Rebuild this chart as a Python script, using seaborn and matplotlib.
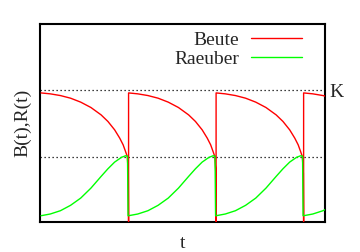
import numpy as np
import pandas as pd
import matplotlib
matplotlib.use("Agg")
import matplotlib.pyplot as plt
import matplotlib.transforms as mtransforms
import seaborn as sns

# ---- data (one cycle, repeated at each cycle start) ----
beute_t = [0.0, 0.105, 0.221, 0.337, 0.453, 0.570, 0.686, 0.764, 0.841,
           0.899, 0.938, 0.965, 0.985, 0.997]
beute_cycle = [0.978, 0.971, 0.958, 0.938, 0.908, 0.867, 0.811, 0.761, 0.697,
               0.634, 0.583, 0.533, 0.495, 0.368]
raeuber_t = [0.0, 0.105, 0.221, 0.337, 0.453, 0.570, 0.686, 0.764, 0.841,
             0.919, 0.965, 0.988]
raeuber_cycle = [0.044, 0.057, 0.082, 0.123, 0.178, 0.254, 0.343, 0.401, 0.452,
                 0.488, 0.500, 0.497]
beute_drop = 0.0
raeuber_drop = 0.044
cycle_starts = [0.0, 1.0, 2.0, 3.0]
K_level = 1.0
threshold_level = 0.49
series_names = ["Beute", "Raeuber"]
colors = ["#ff0000", "#00ff00"]

rows = []
for s in cycle_starts:
    for t, b in zip(beute_t, beute_cycle):
        rows.append((s + t, b, series_names[0]))
    rows.append((s + 1.0, beute_drop, series_names[0]))
for s in cycle_starts:
    for t, r in zip(raeuber_t, raeuber_cycle):
        rows.append((s + t, r, series_names[1]))
    rows.append((s + 0.994, raeuber_drop, series_names[1]))
df = pd.DataFrame(rows, columns=["t", "value", "series"])

sns.set_theme(style="white")
plt.rcParams["font.family"] = ["Liberation Serif", "DejaVu Serif"]

fig = plt.figure(figsize=(3.6, 2.52), dpi=100)
ax = fig.add_axes([40 / 360, (252 - 221.5) / 252, (325.5 - 40) / 360, (221.5 - 24.3) / 252])

ax.axhline(K_level, color="black", lw=0.9, ls=(0, (1, 2.2)), zorder=1)
ax.axhline(threshold_level, color="black", lw=0.9, ls=(0, (1, 2.2)), zorder=1)

sns.lineplot(data=df, x="t", y="value", hue="series", palette=colors,
             estimator=None, sort=False, lw=1.0, ax=ax, zorder=3)

ax.set_xlim(-0.012, 3.25)
ax.set_ylim(0, 1.5)
ax.set_xticks([])
ax.set_yticks([])
for sp in ax.spines.values():
    sp.set_visible(True)
    sp.set_color("black")
    sp.set_linewidth(1.5)

ax.set_xlabel("t", fontsize=14, labelpad=10)
ax.set_ylabel("B(t),R(t)", fontsize=14, labelpad=6)

k_offset = mtransforms.ScaledTranslation(0, -2.5 / 100, fig.dpi_scale_trans)
ax.text(1.012, K_level, "K", transform=ax.get_yaxis_transform() + k_offset,
        ha="left", va="center", fontsize=14)

handles, labels = ax.get_legend_handles_labels()
ax.legend(handles, labels, frameon=False, markerfirst=False, handlelength=2.6,
          fontsize=14, loc="upper right", borderaxespad=0, borderpad=0,
          labelspacing=0.1, handletextpad=0.65,
          bbox_to_anchor=(302 / 360, 1 - 31 / 252), bbox_transform=fig.transFigure)

fig.savefig("out.png", dpi=100)
